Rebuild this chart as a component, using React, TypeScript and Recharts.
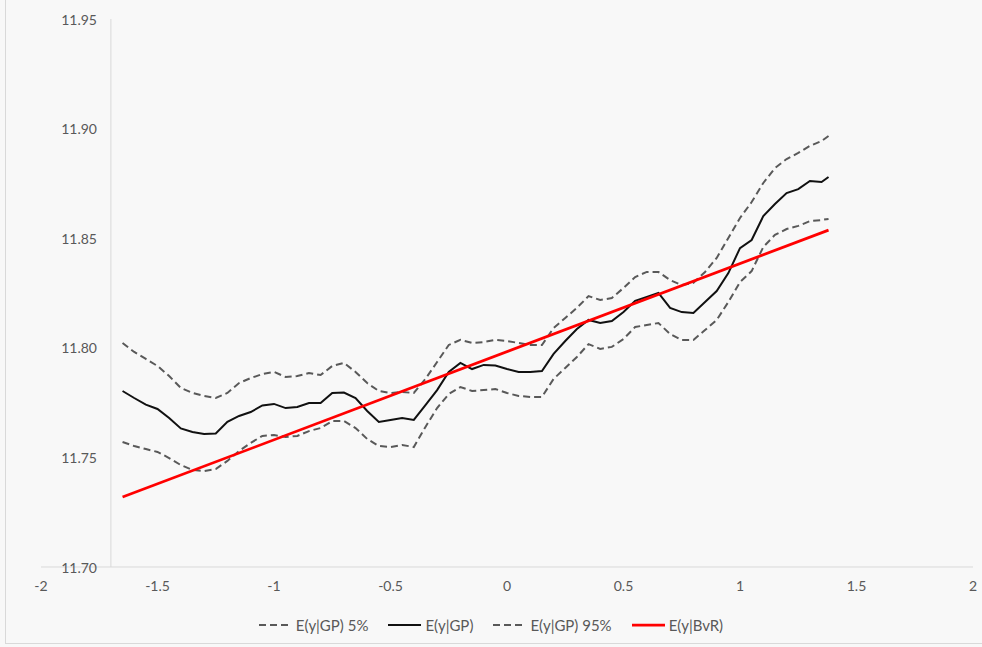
import { LineChart, Line, XAxis, YAxis, ReferenceLine, Legend } from 'recharts';

// x positions of the GP curves
const xValues = [
  -1.65, -1.6, -1.55, -1.5, -1.45, -1.4, -1.35, -1.3, -1.25, -1.2,
  -1.15, -1.1, -1.05, -1.0, -0.95, -0.9, -0.85, -0.8, -0.75, -0.7,
  -0.65, -0.6, -0.55, -0.5, -0.45, -0.4, -0.35, -0.3, -0.25, -0.2,
  -0.15, -0.1, -0.05, 0.0, 0.05, 0.1, 0.15, 0.2, 0.25, 0.3,
  0.35, 0.4, 0.45, 0.5, 0.55, 0.6, 0.65, 0.7, 0.75, 0.8,
  0.85, 0.9, 0.95, 1.0, 1.05, 1.1, 1.15, 1.2, 1.25, 1.3,
  1.35, 1.38,
];

const gpLow = [
  11.7570, 11.7552, 11.7538, 11.7525, 11.7497, 11.7465, 11.7443, 11.7438, 11.7447, 11.7484,
  11.7529, 11.7566, 11.7598, 11.7602, 11.7593, 11.7598, 11.7620, 11.7634, 11.7666, 11.7666,
  11.7634, 11.7584, 11.7552, 11.7547, 11.7557, 11.7547, 11.7639, 11.7725, 11.7789, 11.7821,
  11.7803, 11.7807, 11.7812, 11.7794, 11.7780, 11.7776, 11.7776, 11.7858, 11.7908, 11.7958,
  11.8017, 11.7995, 11.8004, 11.8040, 11.8095, 11.8104, 11.8113, 11.8063, 11.8036, 11.8036,
  11.8081, 11.8127, 11.8209, 11.8300, 11.8350, 11.8460, 11.8515, 11.8542, 11.8556, 11.8578,
  11.8583, 11.8588,
];

const gpMean = [
  11.7803, 11.7771, 11.7741, 11.7721, 11.7680, 11.7632, 11.7616, 11.7607, 11.7609, 11.7662,
  11.7689, 11.7707, 11.7737, 11.7744, 11.7725, 11.7730, 11.7748, 11.7748, 11.7794, 11.7796,
  11.7771, 11.7712, 11.7662, 11.7671, 11.7680, 11.7671, 11.7739, 11.7807, 11.7890, 11.7931,
  11.7903, 11.7922, 11.7919, 11.7903, 11.7890, 11.7890, 11.7894, 11.7972, 11.8031, 11.8086,
  11.8127, 11.8113, 11.8122, 11.8163, 11.8214, 11.8232, 11.8250, 11.8182, 11.8163, 11.8159,
  11.8209, 11.8259, 11.8341, 11.8455, 11.8492, 11.8601, 11.8656, 11.8706, 11.8724, 11.8761,
  11.8756, 11.8779,
];

const gpHigh = [
  11.8022, 11.7981, 11.7949, 11.7917, 11.7871, 11.7817, 11.7794, 11.7780, 11.7771, 11.7794,
  11.7839, 11.7862, 11.7880, 11.7890, 11.7867, 11.7871, 11.7885, 11.7876, 11.7917, 11.7931,
  11.7890, 11.7839, 11.7803, 11.7794, 11.7798, 11.7794, 11.7858, 11.7935, 11.8013, 11.8036,
  11.8022, 11.8026, 11.8036, 11.8031, 11.8022, 11.8013, 11.8013, 11.8090, 11.8136, 11.8182,
  11.8236, 11.8218, 11.8227, 11.8273, 11.8323, 11.8346, 11.8346, 11.8309, 11.8286, 11.8296,
  11.8346, 11.8410, 11.8501, 11.8592, 11.8665, 11.8752, 11.8820, 11.8861, 11.8889, 11.8921,
  11.8943, 11.8966,
];

// straight BvR line, its two end points
const bvrX = [-1.65, 1.38];
const bvrY = [11.7319, 11.8537];

const xTicks = [-2, -1.5, -1, -0.5, 0, 0.5, 1, 1.5, 2];
const yTicks = [11.7, 11.75, 11.8, 11.85, 11.9, 11.95];

const FONT = "Lato, 'Open Sans', sans-serif";
const TEXT = '#595959';
const AXIS = '#d9d9d9';

const SERIES = [
  { key: 'lo', name: 'E(y|GP) 5%', color: '#595959', dash: '7 4', width: 2 },
  { key: 'gp', name: 'E(y|GP)', color: '#111111', dash: undefined, width: 2 },
  { key: 'hi', name: 'E(y|GP) 95%', color: '#595959', dash: '7 4', width: 2 },
  { key: 'bvr', name: 'E(y|BvR)', color: '#ff0000', dash: undefined, width: 2.75 },
];

const rows = xValues.map((x, i) => {
  const j = bvrX.indexOf(x);
  return { x, lo: gpLow[i], gp: gpMean[i], hi: gpHigh[i], bvr: j >= 0 ? bvrY[j] : null };
});

const renderYTick = (props: any) => {
  const { y, payload } = props;
  // labels sit to the right of the chart's left edge, Excel-style
  return (
    <text key={payload.value} x={97} y={y} textAnchor="end" dominantBaseline="central" fill={TEXT} fontSize={14} fontFamily={FONT}>
      {Number(payload.value).toFixed(2)}
    </text>
  );
};

const LegendContent = () => (
  <div style={{ display: 'flex', justifyContent: 'center', gap: 20, fontFamily: FONT, fontSize: 15, color: TEXT, lineHeight: '20px' }}>
    {SERIES.map((s) => (
      <div key={s.key} style={{ display: 'flex', alignItems: 'center' }}>
        <svg width={33} height={10} style={{ marginRight: 4 }}>
          <line x1={0} y1={5} x2={33} y2={5} stroke={s.color} strokeWidth={s.width} strokeDasharray={s.dash} />
        </svg>
        <span>{s.name}</span>
      </div>
    ))}
  </div>
);

export default function App() {
  return (
    <div style={{ position: 'absolute', left: 0, top: 0, width: 982, height: 647, background: '#f8f8f8', overflow: 'hidden' }}>
      <div style={{ position: 'absolute', left: 5, top: -1, width: 990, height: 645, border: '1px solid #d9d9d9', boxSizing: 'border-box' }} />
      <LineChart width={982} height={647} data={rows} margin={{ top: 19, right: 9, left: 40, bottom: 50 }}>
        <XAxis
          dataKey="x"
          type="number"
          domain={[-2, 2]}
          ticks={xTicks}
          axisLine={{ stroke: AXIS }}
          tickLine={false}
          tickMargin={8}
          tick={{ fill: TEXT, fontSize: 14, fontFamily: FONT }}
          height={30}
        />
        <YAxis
          type="number"
          domain={[11.7, 11.95]}
          ticks={yTicks}
          width={1}
          axisLine={false}
          tickLine={false}
          tick={renderYTick}
        />
        <ReferenceLine x={-1.7} stroke={AXIS} strokeWidth={1} />
        <Legend
          verticalAlign="middle"
          align="center"
          wrapperStyle={{ top: 615, left: 0, width: 982 }}
          content={<LegendContent />}
        />
        {SERIES.map((s) => (
          <Line
            key={s.key}
            type="linear"
            dataKey={s.key}
            name={s.name}
            stroke={s.color}
            strokeWidth={s.width}
            strokeDasharray={s.dash}
            dot={false}
            activeDot={false}
            connectNulls
            isAnimationActive={false}
          />
        ))}
      </LineChart>
    </div>
  );
}
